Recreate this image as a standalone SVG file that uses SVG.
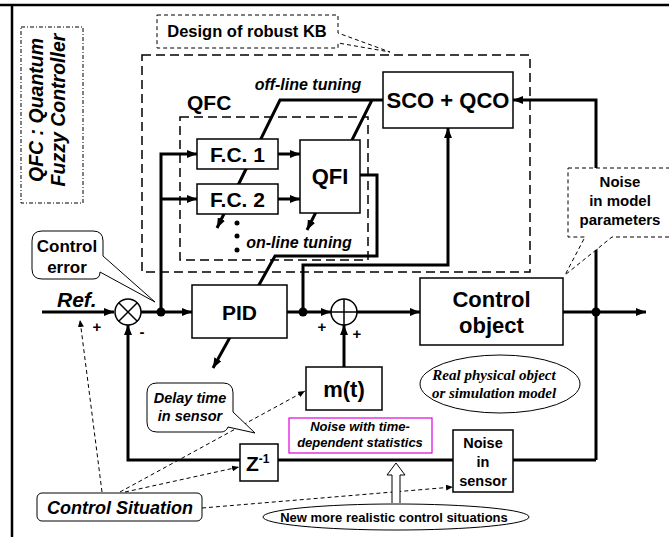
<svg xmlns="http://www.w3.org/2000/svg" width="669" height="537" viewBox="0 0 669 537">
<defs>
<style>
text{font-family:"Liberation Sans",Arial,sans-serif;font-weight:bold;fill:#000}
.it{font-style:italic}
.w{fill:none;stroke:#000;stroke-width:3}
.box{fill:#fff;stroke:#000;stroke-width:1.5}
.dash{fill:none;stroke:#000;stroke-width:1.5;stroke-dasharray:9,5}
.dl{fill:none;stroke:#000;stroke-width:1;stroke-dasharray:4,3}
.tm{font-family:"Liberation Serif","Times New Roman",serif}
</style>
<marker id="ah" markerUnits="userSpaceOnUse" markerWidth="10" markerHeight="8" refX="10" refY="4" orient="auto"><path d="M0,0 L10,4 L0,8 z" fill="#000"/></marker>
<marker id="as" markerUnits="userSpaceOnUse" markerWidth="7" markerHeight="6" refX="7" refY="3" orient="auto"><path d="M0,0 L7,3 L0,6 z" fill="#000"/></marker>
</defs>
<rect width="669" height="537" fill="#fff"/>
<path d="M0,5 H669 M12,5 V537" stroke="#000" stroke-width="2.5" fill="none"/>

<g id="legend">
<rect x="21" y="27" width="62" height="176" fill="none" stroke="#000" stroke-width="1" stroke-dasharray="4,2,1,2"/>
<text class="it" font-size="19.5" text-anchor="middle" transform="translate(43,110) rotate(-90)">QFC : Quantum</text>
<text class="it" font-size="19.5" text-anchor="middle" transform="translate(65,110) rotate(-90)">Fuzzy Controller</text>
</g>

<g id="kb-region">
<rect class="dash" x="142" y="55" width="388" height="217"/>
</g>
<g id="qfc-region">
<rect class="dash" x="180" y="117" width="188" height="143"/>
<text x="187" y="110" font-size="21">QFC</text>
</g>

<g id="connectors">
<path class="w" d="M42,312 H114" marker-end="url(#ah)"/>
<path class="w" d="M141,312 H192" marker-end="url(#ah)"/>
<path class="w" d="M161,312 V154 H197" marker-end="url(#ah)"/>
<path class="w" d="M161,199 H197" marker-end="url(#ah)"/>
<path class="w" d="M278,154 H300" marker-end="url(#ah)"/>
<path class="w" d="M278,199 H300" marker-end="url(#ah)"/>
<path class="w" d="M360,175 H377 V256 H275 L213,368" marker-end="url(#ah)"/>
<path class="w" d="M287,312 H331" marker-end="url(#ah)"/>
<path class="w" d="M303,312 V265 H448 V128" marker-end="url(#ah)"/>
<path class="w" d="M357,312 H420" marker-end="url(#ah)"/>
<path class="w" d="M563,312 H646" marker-end="url(#ah)"/>
<path class="w" d="M596,460 V100 H513" marker-end="url(#ah)"/>
<path class="w" d="M596,460 H128 V325" marker-end="url(#ah)"/>
<path class="w" d="M344,367 V325" marker-end="url(#ah)"/>
<path class="w" d="M383,100 H280 L217,228" marker-end="url(#ah)"/>
<path class="w" d="M372,100 L307,230" marker-end="url(#ah)"/>
<circle cx="161" cy="312" r="4.5"/>
<circle cx="303" cy="312" r="4.5"/>
<circle cx="596" cy="312" r="4.5"/>
<circle cx="237" cy="223" r="2.5"/>
<circle cx="237" cy="236" r="2.5"/>
<circle cx="237" cy="250" r="2.5"/>
<path class="dl" d="M102,492 L80,320" marker-end="url(#as)"/>
<path class="dl" d="M120,492 L305,391" marker-end="url(#as)"/>
<path class="dl" d="M125,492 L239,467" marker-end="url(#as)"/>
<path class="dl" d="M202,508 L453,487" marker-end="url(#as)"/>
<path d="M392,503 V475 H387 L396,463 L405,475 H400 V503" fill="#fff" stroke="#000" stroke-width="1"/>
</g>

<g id="sum1">
<circle cx="128" cy="312" r="13" fill="#fff" stroke="#000" stroke-width="1.5"/>
<path d="M119,303 L137,321 M137,303 L119,321" stroke="#000" stroke-width="1.5"/>
<text x="97" y="332" font-size="15" text-anchor="middle">+</text>
<text x="142" y="337" font-size="15" text-anchor="middle">-</text>
</g>
<g id="sum2">
<circle cx="344" cy="312" r="13" fill="#fff" stroke="#000" stroke-width="1.5"/>
<path d="M331,312 H357 M344,299 V325" stroke="#000" stroke-width="1.5"/>
<text x="322" y="332" font-size="15" text-anchor="middle">+</text>
<text x="357" y="339" font-size="15" text-anchor="middle">+</text>
</g>

<g id="ref"><text class="it" x="57" y="307" font-size="21">Ref.</text></g>

<g id="fc1"><rect class="box" x="197" y="139" width="81" height="30"/><text x="237.5" y="162" font-size="21" text-anchor="middle">F.C. 1</text></g>
<g id="fc2"><rect class="box" x="197" y="184" width="81" height="30"/><text x="237.5" y="207" font-size="21" text-anchor="middle">F.C. 2</text></g>
<g id="qfi"><rect class="box" x="300" y="140" width="60" height="73"/><text x="330" y="184" font-size="22" text-anchor="middle">QFI</text></g>
<g id="sco"><rect class="box" x="383" y="72" width="130" height="56"/><text x="448" y="108" font-size="22" text-anchor="middle">SCO + QCO</text></g>
<g id="pid"><rect class="box" x="192" y="285" width="95" height="53"/><text x="239.5" y="320" font-size="21" text-anchor="middle">PID</text></g>
<g id="control-object"><rect class="box" x="420" y="278" width="143" height="67"/><text x="491.5" y="307" font-size="22" text-anchor="middle">Control</text><text x="491.5" y="333" font-size="22" text-anchor="middle">object</text></g>
<g id="mt"><rect class="box" x="306" y="367" width="76" height="43"/><text x="344" y="397" font-size="22" text-anchor="middle">m(t)</text></g>
<g id="z"><rect class="box" x="240" y="444" width="38" height="37"/><text x="246" y="471" font-size="21">Z<tspan font-size="12" dy="-8">-1</tspan></text></g>
<g id="noise-sensor"><rect class="box" x="453" y="430" width="60" height="62"/><text x="483" y="448" font-size="14.5" text-anchor="middle">Noise</text><text x="483" y="467" font-size="14.5" text-anchor="middle">in</text><text x="483" y="486" font-size="14.5" text-anchor="middle">sensor</text></g>

<g id="tuning-labels">
<text class="it" x="308" y="90" font-size="16" text-anchor="middle">off-line tuning</text>
<text class="it" x="299" y="248" font-size="16" text-anchor="middle">on-line tuning</text>
</g>

<g id="design-kb">
<path d="M157,15 H338 V33 L390,52 L338,43 V48 H157 Z" fill="#fff" stroke="#000" stroke-width="1" stroke-dasharray="4,3"/>
<text x="247" y="37" font-size="16.5" text-anchor="middle">Design of robust KB</text>
</g>

<g id="noise-model">
<path d="M568,168 H675 V237 H612 L565,275 L585,237 H568 Z" fill="#fff" stroke="#000" stroke-width="1" stroke-dasharray="4,3"/>
<text x="620" y="187" font-size="15" text-anchor="middle">Noise</text>
<text x="620" y="206" font-size="15" text-anchor="middle">in model</text>
<text x="620" y="225" font-size="15" text-anchor="middle">parameters</text>
</g>

<g id="control-error">
<path d="M42,231 H93 Q103,231 103,241 V256 L155,302 L100,272 Q100,279 93,279 H42 Q32,279 32,269 V241 Q32,231 42,231 Z" fill="#fff" stroke="#000" stroke-width="1"/>
<text x="67" y="252" font-size="17" text-anchor="middle">Control</text>
<text x="67" y="273" font-size="17" text-anchor="middle">error</text>
</g>

<g id="delay-time">
<path d="M157,383 H223 Q233,383 233,393 V412 L255,433 L228,427 Q226,432 221,432 H157 Q147,432 147,422 V393 Q147,383 157,383 Z" fill="#fff" stroke="#000" stroke-width="1"/>
<text class="it" x="190" y="403" font-size="14.5" text-anchor="middle">Delay time</text>
<text class="it" x="190" y="421" font-size="14.5" text-anchor="middle">in sensor</text>
</g>

<g id="noise-time">
<rect x="289" y="418" width="143" height="35" fill="#fff" stroke="#e000e0" stroke-width="1.2"/>
<text class="it" x="360" y="431" font-size="13" text-anchor="middle">Noise with time-</text>
<text class="it" x="360" y="447" font-size="13" text-anchor="middle">dependent statistics</text>
</g>

<g id="real-object">
<ellipse cx="500" cy="384" rx="80" ry="29" fill="#fff" stroke="#000" stroke-width="1"/>
<text class="it tm" x="494" y="380" font-size="15" text-anchor="middle">Real physical object</text>
<text class="it tm" x="494" y="398" font-size="15" text-anchor="middle">or simulation model</text>
</g>

<g id="control-situation">
<rect x="37" y="493" width="165" height="28" rx="5" fill="#fff" stroke="#000" stroke-width="1"/>
<text class="it" x="120" y="514" font-size="18" text-anchor="middle">Control Situation</text>
</g>

<g id="new-situations">
<ellipse cx="396" cy="517" rx="133" ry="13" fill="#fff" stroke="#000" stroke-width="1"/>
<text x="394" y="522" font-size="13" text-anchor="middle">New more realistic control situations</text>
</g>
</svg>
